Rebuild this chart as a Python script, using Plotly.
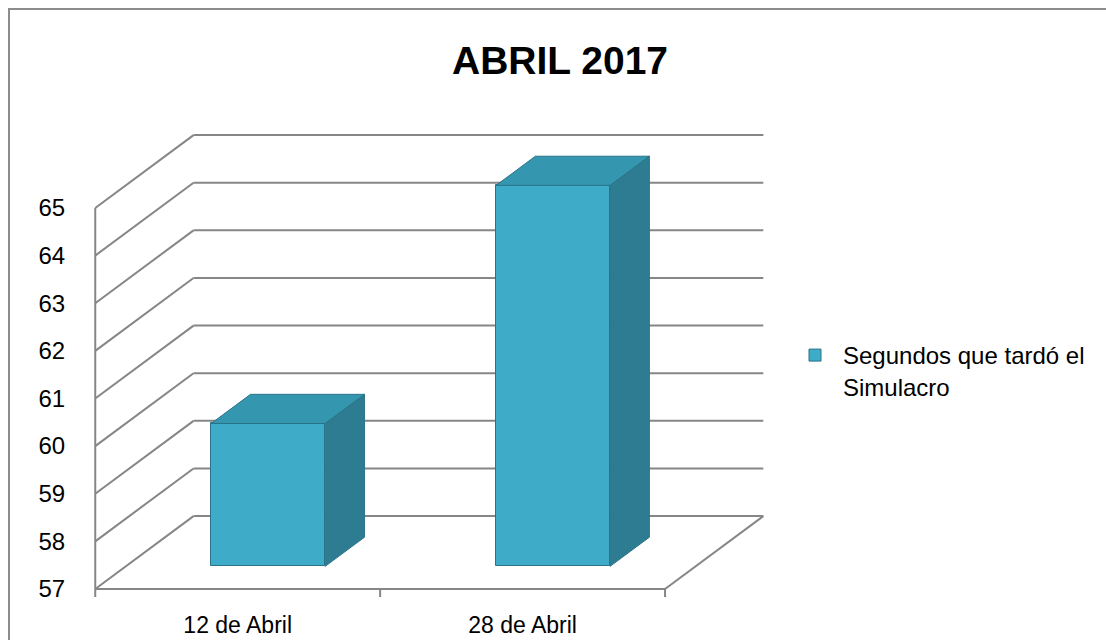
import plotly.graph_objects as go

# ---------------- data ----------------
categories = ["12 de Abril", "28 de Abril"]
values = [60, 65]
y_ticks = [57, 58, 59, 60, 61, 62, 63, 64, 65]
series_name = "Segundos que tardó el<br>Simulacro"
title_text = "ABRIL 2017"

# ---------------- geometry / style ----------------
W, H = 1106, 640
ML, MR, MT, MB = 81, 327, 127, 42
XMIN, XMAX = -0.55, 1.9
YMIN, YMAX = 56.81, 66.70
DX, DY = 0.345, 1.53        # depth of the 3-D box (data units)
F0, F1 = 0.31, 0.71         # depth span of the bars
BW = 0.4                    # bar width
TICK = 0.17                 # tick length below floor (data units)
FONT = "Liberation Sans, Arial, sans-serif"
GRID = "#868686"
C_FRONT = "#3EABC8"
C_SIDE = "#2E7C92"
C_TOP = "#3496AF"
C_EDGE = "#2A7389"

pw = W - ML - MR
ph = H - MT - MB


def px_x(p):
    return (p - ML) / pw


def px_y(p):
    return (H - MB - p) / ph


base = y_ticks[0]
top = y_ticks[-1]
x_left = -0.5
x_right = len(categories) - 0.5

shapes = []


def seg(x0, y0, x1, y1):
    shapes.append(dict(type="line", xref="x", yref="y", x0=x0, y0=y0, x1=x1, y1=y1,
                       line=dict(color=GRID, width=2), layer="below"))


# walls: left wall diagonals + back wall gridlines
for v in y_ticks:
    seg(x_left, v, x_left + DX, v + DY)
    seg(x_left + DX, v + DY, x_right + DX, v + DY)
# front vertical edge of left wall (with tick below)
seg(x_left, base - TICK, x_left, top)
# floor front and right edges
seg(x_left, base, x_right, base)
seg(x_right, base, x_right + DX, base + DY)
# category ticks
for i in range(len(categories)):
    xt = i + 0.5
    seg(xt, base, xt, base - TICK)

# border around the chart
shapes.append(dict(type="rect", xref="paper", yref="paper",
                   x0=px_x(9), x1=px_x(1120), y0=px_y(9), y1=px_y(660),
                   line=dict(color="#8C8C8C", width=2), fillcolor="rgba(0,0,0,0)",
                   layer="below"))

fig = go.Figure()

# front faces of the bars
fig.add_trace(go.Bar(
    x=[i + F0 * DX for i in range(len(categories))],
    y=[v - base for v in values],
    base=[base + F0 * DY] * len(values),
    width=BW,
    marker=dict(color=C_FRONT, line=dict(color=C_EDGE, width=1)),
    name=series_name,
    showlegend=True,
    hoverinfo="skip",
))

# side and top faces
for i, v in enumerate(values):
    xl = i - BW / 2 + F0 * DX
    xr = i + BW / 2 + F0 * DX
    ddx = (F1 - F0) * DX
    b0 = base + F0 * DY
    b1 = base + F1 * DY
    t0 = v + F0 * DY
    t1 = v + F1 * DY
    fig.add_trace(go.Scatter(
        x=[xr, xr + ddx, xr + ddx, xr, xr], y=[b0, b1, t1, t0, b0],
        fill="toself", fillcolor=C_SIDE, mode="lines",
        line=dict(color=C_EDGE, width=1), showlegend=False, hoverinfo="skip"))
    fig.add_trace(go.Scatter(
        x=[xl, xr, xr + ddx, xl + ddx, xl], y=[t0, t0, t1, t1, t0],
        fill="toself", fillcolor=C_TOP, mode="lines",
        line=dict(color=C_EDGE, width=1), showlegend=False, hoverinfo="skip"))

fig.update_layout(
    width=W, height=H,
    margin=dict(l=ML, r=MR, t=MT, b=MB, pad=0, autoexpand=False),
    paper_bgcolor="white", plot_bgcolor="white",
    font=dict(family=FONT, size=24, color="black"),
    title=dict(text="<b>" + title_text + "</b>", x=560 / W, y=1 - 60 / H,
               xref="container", yref="container", xanchor="center", yanchor="middle",
               font=dict(family=FONT, size=39, color="black")),
    shapes=shapes,
    showlegend=True,
    legend=dict(x=px_x(787), y=px_y(333), xanchor="left", yanchor="top",
                bgcolor="rgba(0,0,0,0)", font=dict(family=FONT, size=24, color="black"),
                valign="top", itemwidth=46),
    xaxis=dict(range=[XMIN, XMAX], showgrid=False, zeroline=False, showline=False,
               automargin=False,
               tickmode="array", tickvals=list(range(len(categories))), ticktext=categories,
               ticks="outside", ticklen=6, tickcolor="rgba(0,0,0,0)",
               tickfont=dict(family=FONT, size=23, color="black"), fixedrange=True),
    yaxis=dict(range=[YMIN, YMAX], showgrid=False, zeroline=False, showline=False,
               automargin=False,
               tickmode="array", tickvals=y_ticks, ticks="outside", ticklen=10,
               tickcolor="rgba(0,0,0,0)", tickfont=dict(family=FONT, size=24, color="black"),
               fixedrange=True),
    bargap=0,
)

fig.write_html("out.html", config={"displayModeBar": False},
               post_script="document.body.style.margin='0';document.body.style.overflow='hidden';")
